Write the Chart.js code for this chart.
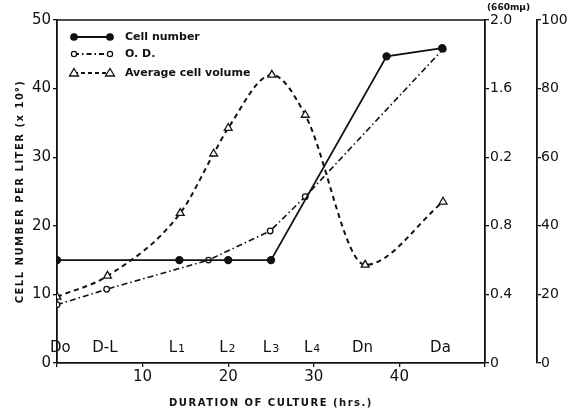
<!DOCTYPE html>
<html>
<head>
<meta charset="utf-8">
<script src="https://cdn.jsdelivr.net/npm/chart.js@4"></script>
<style>
  html, body { margin: 0; padding: 0; background: #fff; }
  #wrap { width: 569px; height: 410px; }
</style>
</head>
<body>
<div id="wrap"><canvas id="chart" width="569" height="410"></canvas></div>
<script>
// values
const cellHours = [0, 14.3, 20, 25, 38.5, 45];
const cellNumber = [15, 15, 15, 15, 44.7, 45.9];

const odHours = [0, 5.8, 17.7, 24.9, 29, 45.1];
const odValues = [0.34, 0.43, 0.60, 0.77, 0.97, 1.83];

const volHours = [0, 5.9, 14.4, 18.3, 20, 25.1, 29, 36, 45.1];
const volValues = [19.3, 25.4, 43.7, 61, 68.5, 84, 72.3, 28.6, 47];

const odTickLabels = ['0', '0.4', '0.8', '0.2', '1.6', '2.0'];
const phaseLabels = ['Do', 'D-L', 'L1', 'L2', 'L3', 'L4', 'Dn', 'Da'];
const phaseHours = [0.4, 5.6, 14, 19.9, 25, 29.8, 35.7, 44.8];

const ink = '#111';
const font = 'DejaVu Sans';

const toXY = (xs, ys) => xs.map((x, i) => ({ x: x, y: ys[i] }));

// legend, phase labels, axis titles, top frame line
const extras = {
    id: 'extras',
    afterDraw(chart) {
        const ctx = chart.ctx;
        const area = chart.chartArea;
        const x = chart.scales.x;
        ctx.save();
        ctx.strokeStyle = ink;
        ctx.fillStyle = ink;

        // top frame
        ctx.lineWidth = 1.5;
        ctx.beginPath();
        ctx.moveTo(area.left, area.top);
        ctx.lineTo(area.right, area.top);
        ctx.stroke();

        // phase labels along the bottom
        ctx.textAlign = 'center';
        ctx.textBaseline = 'alphabetic';
        phaseLabels.forEach((lab, i) => {
            const px = x.getPixelForValue(phaseHours[i]);
            if (lab[0] == 'L') {
                ctx.font = '15px ' + font;
                const w1 = ctx.measureText('L').width;
                ctx.font = '11px ' + font;
                const w2 = ctx.measureText(lab.slice(1)).width;
                const start = px - (w1 + w2 + 1) / 2;
                ctx.textAlign = 'left';
                ctx.font = '15px ' + font;
                ctx.fillText('L', start, 352);
                ctx.font = '11px ' + font;
                ctx.fillText(lab.slice(1), start + w1 + 1, 352);
                ctx.textAlign = 'center';
            } else {
                ctx.font = '15px ' + font;
                ctx.fillText(lab, px, 352);
            }
        });

        // axis titles
        ctx.font = 'bold 10px ' + font;
        ctx.letterSpacing = '1.5px';
        ctx.textAlign = 'center';
        ctx.textBaseline = 'middle';
        ctx.fillText('DURATION OF CULTURE (hrs.)', (area.left + area.right) / 2, 403);

        ctx.save();
        ctx.translate(20, (area.top + area.bottom) / 2);
        ctx.rotate(-Math.PI / 2);
        ctx.fillText('CELL NUMBER PER LITER (x 10⁹)', 0, 0);
        ctx.restore();

        ctx.letterSpacing = '0px';
        ctx.font = 'bold 9px ' + font;
        ctx.textAlign = 'left';
        ctx.fillText('(660mμ)', area.right + 2, 8);

        // legend
        const rows = [
            { y: 37, text: 'Cell number', dash: [], pt: 'fill' },
            { y: 54, text: 'O. D.', dash: [5, 3, 1.5, 3], pt: 'open' },
            { y: 73, text: 'Average cell volume', dash: [4, 3], pt: 'tri' }
        ];
        rows.forEach(r => {
            ctx.lineWidth = 1.8;
            ctx.setLineDash(r.dash);
            ctx.beginPath();
            ctx.moveTo(74, r.y);
            ctx.lineTo(110, r.y);
            ctx.stroke();
            ctx.setLineDash([]);
            [74, 110].forEach(px => {
                ctx.beginPath();
                if (r.pt == 'tri') {
                    ctx.moveTo(px, r.y - 4.5);
                    ctx.lineTo(px + 4.5, r.y + 3);
                    ctx.lineTo(px - 4.5, r.y + 3);
                    ctx.closePath();
                    ctx.fillStyle = '#fff';
                    ctx.fill();
                    ctx.lineWidth = 1.3;
                    ctx.stroke();
                } else {
                    ctx.arc(px, r.y, r.pt == 'fill' ? 3.2 : 2.6, 0, Math.PI * 2);
                    ctx.fillStyle = r.pt == 'fill' ? ink : '#fff';
                    ctx.fill();
                    ctx.lineWidth = 1.3;
                    ctx.stroke();
                }
            });
            ctx.fillStyle = ink;
            ctx.font = 'bold 11px ' + font;
            ctx.textAlign = 'left';
            ctx.textBaseline = 'middle';
            ctx.fillText(r.text, 125, r.y);
        });
        ctx.restore();
    }
};

const axisBorder = { display: true, color: ink, width: 1.8 };
const tickGrid = { display: true, drawOnChartArea: false, drawTicks: true, tickLength: 4, color: ink, lineWidth: 1.3 };

let chart = new Chart(
    document.getElementById('chart'),
    {
        type: 'line',
        data: {
            datasets: [
                {
                    label: 'Cell number',
                    data: toXY(cellHours, cellNumber),
                    yAxisID: 'y',
                    borderColor: ink,
                    borderWidth: 1.8,
                    pointRadius: 3.3,
                    pointBackgroundColor: ink,
                    pointBorderColor: ink,
                    tension: 0
                },
                {
                    label: 'O. D.',
                    data: toXY(odHours, odValues),
                    yAxisID: 'od',
                    borderColor: ink,
                    borderWidth: 1.6,
                    borderDash: [6, 3, 1.5, 3],
                    pointRadius: 2.8,
                    pointBackgroundColor: '#fff',
                    pointBorderColor: ink,
                    pointBorderWidth: 1.3,
                    tension: 0
                },
                {
                    label: 'Average cell volume',
                    data: toXY(volHours, volValues),
                    yAxisID: 'vol',
                    borderColor: ink,
                    borderWidth: 2,
                    borderDash: [5, 4],
                    pointStyle: 'triangle',
                    pointRadius: 4.5,
                    pointBackgroundColor: '#fff',
                    pointBorderColor: ink,
                    pointBorderWidth: 1.3,
                    cubicInterpolationMode: 'monotone'
                }
            ]
        },
        options: {
            responsive: false,
            animation: false,
            layout: { padding: { top: 20, left: 0, right: 0, bottom: 0 } },
            plugins: {
                legend: { display: false },
                tooltip: { enabled: false }
            },
            scales: {
                x: {
                    type: 'linear',
                    min: 0,
                    max: 50,
                    border: axisBorder,
                    grid: tickGrid,
                    ticks: {
                        stepSize: 10,
                        color: ink,
                        font: { family: font, size: 15 },
                        padding: 1,
                        maxRotation: 0,
                        callback: v => (v == 0 || v == 50) ? '' : v
                    },
                    afterFit: s => { s.height = 47; }
                },
                y: {
                    position: 'left',
                    min: 0,
                    max: 50,
                    border: axisBorder,
                    grid: tickGrid,
                    ticks: {
                        stepSize: 10,
                        color: ink,
                        font: { family: font, size: 15 },
                        padding: 2
                    },
                    afterFit: s => { s.width = 57; }
                },
                od: {
                    position: 'right',
                    min: 0,
                    max: 2,
                    border: axisBorder,
                    grid: tickGrid,
                    ticks: {
                        stepSize: 0.4,
                        color: ink,
                        font: { family: font, size: 14 },
                        padding: 1,
                        callback: (v, i) => odTickLabels[i]
                    },
                    afterFit: s => { s.width = 52; }
                },
                vol: {
                    position: 'right',
                    min: 0,
                    max: 100,
                    border: axisBorder,
                    grid: tickGrid,
                    ticks: {
                        stepSize: 20,
                        color: ink,
                        font: { family: font, size: 14 },
                        padding: 0
                    },
                    afterFit: s => { s.width = 32; }
                }
            }
        },
        plugins: [extras]
    }
);
</script>
</body>
</html>
